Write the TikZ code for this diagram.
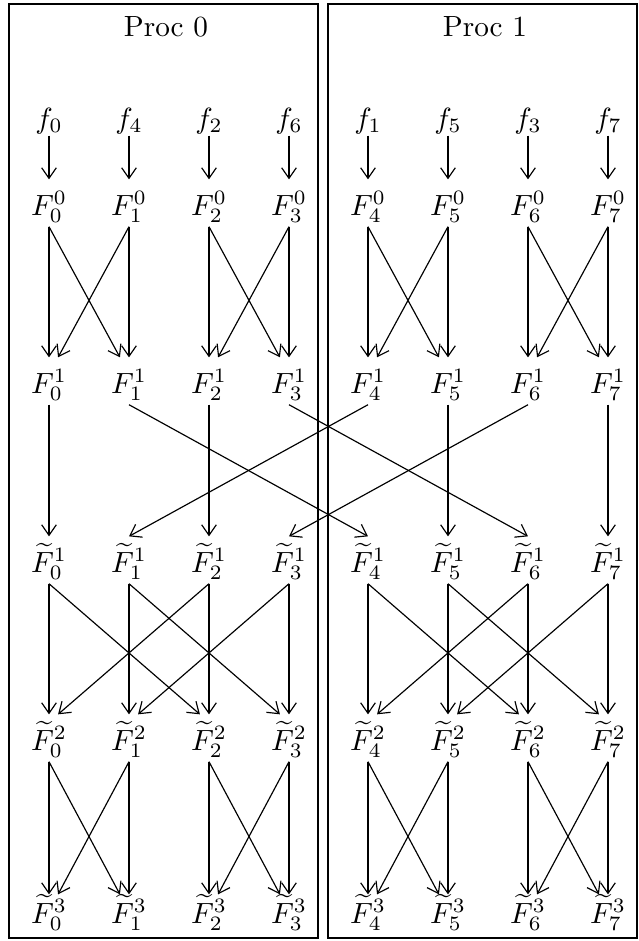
\documentclass[tikz,border=0pt]{standalone}
\usepackage{amsmath}
\usetikzlibrary{arrows.meta}
\begin{document}
\begin{tikzpicture}[x=0.342pt,y=-0.342pt,
  lab/.style={inner sep=0pt,anchor=base,text height=12.0pt,text depth=3.8pt},
  flab/.style={lab,text depth=2.4pt},
  elab/.style={lab,text height=9.6pt},
  arr/.style={-{Straight Barb[length=3.6pt,width=5pt]},line width=0.4pt},
  procbox/.style={draw,line width=0.45pt},
  title/.style={anchor=base,inner sep=0pt}]
\useasboundingbox (0,0) rectangle (639,941);
\draw[procbox] (9,4) rectangle (318,938);
\draw[procbox] (328,4) rectangle (637,938);
\node[title] (p0) at (166,36) {Proc 0};
\node[title] (p1) at (485,36) {Proc 1};
\foreach \c/\l in {0/0,1/4,2/2,3/6,4/1,5/5,6/3,7/7} {
  \pgfmathsetmacro\xx{\c<4 ? 49+80*\c : 368+80*(\c-4)}
  \node[flab] (f\c) at (\xx,128) {$f_{\l}$};
  \node[lab] (A\c) at (\xx,215) {$F^{0}_{\c}$};
  \node[lab] (B\c) at (\xx,393) {$F^{1}_{\c}$};
  \node[lab] (C\c) at (\xx,572) {$\widetilde{F}^{1}_{\c}$};
  \node[lab] (D\c) at (\xx,750) {$\widetilde{F}^{2}_{\c}$};
  \node[elab] (E\c) at (\xx,923) {$\widetilde{F}^{3}_{\c}$};
}
\foreach \c in {0,...,7} {
  \draw[arr] (f\c.south) -- (A\c.north);
  \draw[arr] (A\c.south) -- (B\c.north);
  \draw[arr] (C\c.south) -- (D\c.north);
  \draw[arr] (D\c.south) -- (E\c.north);
}
% butterflies of distance 1
\foreach \a/\b in {0/1,2/3,4/5,6/7} {
  \draw[arr] (A\a.south) -- ([xshift=-3.1pt]B\b.north);
  \draw[arr] (A\b.south) -- ([xshift=3.1pt]B\a.north);
  \draw[arr] (D\a.south) -- ([xshift=-3.1pt]E\b.north);
  \draw[arr] (D\b.south) -- ([xshift=3.1pt]E\a.north);
}
% exchange between processors
\foreach \c in {0,2,5,7} {
  \draw[arr] (B\c.south) -- (C\c.north);
}
\foreach \a/\b in {1/4,4/1,3/6,6/3} {
  \draw[arr] (B\a.south) -- (C\b.north);
}
% butterflies of distance 2
\foreach \a/\b in {0/2,1/3,4/6,5/7} {
  \draw[arr] (C\a.south) -- ([xshift=-3.1pt]D\b.north);
  \draw[arr] (C\b.south) -- ([xshift=3.1pt]D\a.north);
}
\end{tikzpicture}
\end{document}
